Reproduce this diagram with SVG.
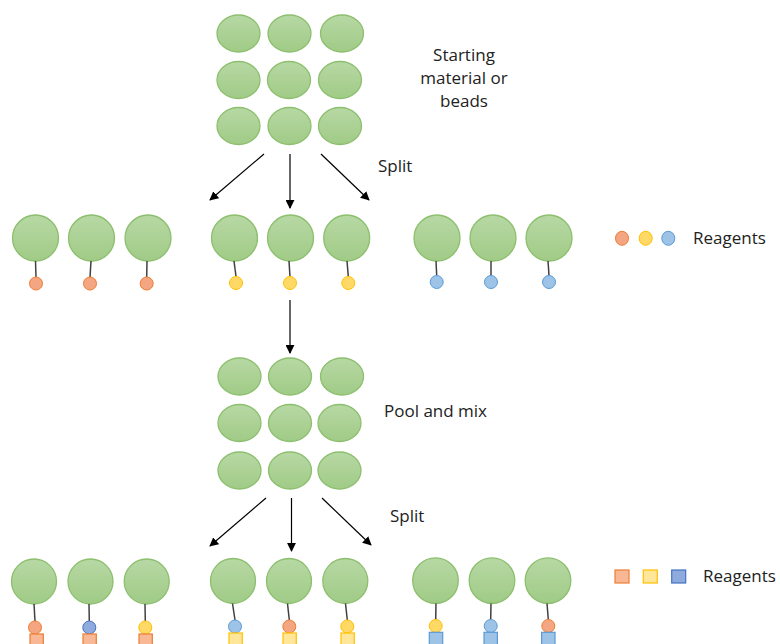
<svg xmlns="http://www.w3.org/2000/svg" width="780" height="644" viewBox="0 0 780 644">
<defs>
<linearGradient id="gg" x1="0" y1="0" x2="0" y2="1">
<stop offset="0" stop-color="#b7d8a4"/>
<stop offset="1" stop-color="#a0cb86"/>
</linearGradient>
<marker id="ah" viewBox="0 0 10 10" refX="9" refY="5" markerWidth="9" markerHeight="9" markerUnits="userSpaceOnUse" orient="auto">
<path d="M0,0 L10,5 L0,10 Z" fill="#000"/>
</marker>
</defs>
<style>
.bead{fill:url(#gg);stroke:#8cbf6e;stroke-width:1.3}
.stem{stroke:#404040;stroke-width:1.5}
.o{fill:#f4a582;stroke:#ed7d31;stroke-width:1}
.y{fill:#ffd966;stroke:#ffc000;stroke-width:1}
.b{fill:#9dc3e6;stroke:#5b9bd5;stroke-width:1}
.db{fill:#8faadc;stroke:#4472c4;stroke-width:1}
.so{fill:#f8b896;stroke:#ed7d31;stroke-width:1.2}
.sy{fill:#ffe699;stroke:#ffc000;stroke-width:1.2}
.sb{fill:#9dc3e6;stroke:#5b9bd5;stroke-width:1.2}
.sdb{fill:#8faadc;stroke:#4472c4;stroke-width:1.2}
.arr{stroke:#000;stroke-width:1.2;fill:none;marker-end:url(#ah)}
text{font-family:"Open Sans","Liberation Sans",sans-serif;font-size:17px;fill:#222}
</style>

<g id="pool1">
<ellipse class="bead" cx="238.5" cy="33.5" rx="21.5" ry="18.5"/>
<ellipse class="bead" cx="289.5" cy="33.5" rx="21.5" ry="18.5"/>
<ellipse class="bead" cx="342" cy="33.5" rx="21.5" ry="18.5"/>
<ellipse class="bead" cx="238.5" cy="80" rx="21.5" ry="18.5"/>
<ellipse class="bead" cx="289" cy="80" rx="21.5" ry="18.5"/>
<ellipse class="bead" cx="340" cy="80" rx="21.5" ry="18.5"/>
<ellipse class="bead" cx="238.5" cy="126" rx="21.5" ry="18.5"/>
<ellipse class="bead" cx="289.5" cy="126" rx="21.5" ry="18.5"/>
<ellipse class="bead" cx="340" cy="126" rx="21.5" ry="18.5"/>
</g>
<g id="label-start">
<text x="464" y="61" text-anchor="middle">Starting</text>
<text x="464" y="84" text-anchor="middle">material or</text>
<text x="464" y="107" text-anchor="middle">beads</text>
</g>
<g id="label-split1"><text x="378" y="172">Split</text></g>

<g id="connectors">
<line class="arr" x1="264" y1="154" x2="210" y2="200"/>
<line class="arr" x1="290" y1="154" x2="290" y2="208"/>
<line class="arr" x1="321" y1="154" x2="369" y2="200"/>
<line class="arr" x1="290" y1="300" x2="290" y2="353"/>
<line class="arr" x1="266" y1="498" x2="210" y2="546"/>
<line class="arr" x1="291.5" y1="498" x2="291.5" y2="551"/>
<line class="arr" x1="322" y1="498" x2="371" y2="545"/>
</g>

<g id="split1-orange">
<circle class="bead" cx="35.5" cy="238" r="23"/><line class="stem" x1="35.5" y1="261" x2="36" y2="277"/><circle class="o" cx="36" cy="283.5" r="6.5"/>
<circle class="bead" cx="91.5" cy="238" r="23"/><line class="stem" x1="91" y1="261" x2="90" y2="277"/><circle class="o" cx="90" cy="283.5" r="6.5"/>
<circle class="bead" cx="148" cy="238" r="23"/><line class="stem" x1="147" y1="261" x2="146.7" y2="277"/><circle class="o" cx="146.7" cy="283.5" r="6.5"/>
</g>
<g id="split1-yellow">
<circle class="bead" cx="234.5" cy="238" r="23"/><line class="stem" x1="234" y1="261" x2="236" y2="276.5"/><circle class="y" cx="236" cy="283" r="6.5"/>
<circle class="bead" cx="290.5" cy="238" r="23"/><line class="stem" x1="289" y1="261" x2="290" y2="276.5"/><circle class="y" cx="290" cy="283" r="6.5"/>
<circle class="bead" cx="346.7" cy="238" r="23"/><line class="stem" x1="347" y1="261" x2="348.3" y2="276.5"/><circle class="y" cx="348.3" cy="283" r="6.5"/>
</g>
<g id="split1-blue">
<circle class="bead" cx="437" cy="238" r="23"/><line class="stem" x1="436" y1="261" x2="436.7" y2="275.5"/><circle class="b" cx="436.7" cy="282" r="6.5"/>
<circle class="bead" cx="493" cy="238" r="23"/><line class="stem" x1="491" y1="261" x2="491" y2="275.5"/><circle class="b" cx="491" cy="282" r="6.5"/>
<circle class="bead" cx="549" cy="238" r="23"/><line class="stem" x1="548" y1="261" x2="549" y2="275.5"/><circle class="b" cx="549" cy="282" r="6.5"/>
</g>
<g id="legend1">
<ellipse class="o" cx="622" cy="238.3" rx="6.5" ry="7"/>
<ellipse class="y" cx="645.7" cy="238.3" rx="6.5" ry="7"/>
<ellipse class="b" cx="668.3" cy="238.3" rx="6.5" ry="7"/>
<text x="693" y="244">Reagents</text>
</g>

<g id="pool2">
<ellipse class="bead" cx="239.5" cy="376.5" rx="21.5" ry="18.5"/>
<ellipse class="bead" cx="290" cy="376.5" rx="21.5" ry="18.5"/>
<ellipse class="bead" cx="342" cy="376.5" rx="21.5" ry="18.5"/>
<ellipse class="bead" cx="239.5" cy="423" rx="21.5" ry="18.5"/>
<ellipse class="bead" cx="290" cy="423" rx="21.5" ry="18.5"/>
<ellipse class="bead" cx="339.5" cy="423" rx="21.5" ry="18.5"/>
<ellipse class="bead" cx="239.5" cy="470.5" rx="21.5" ry="18.5"/>
<ellipse class="bead" cx="290" cy="470.5" rx="21.5" ry="18.5"/>
<ellipse class="bead" cx="339.5" cy="470.5" rx="21.5" ry="18.5"/>
</g>
<g id="label-pool"><text x="384" y="417">Pool and mix</text></g>
<g id="label-split2"><text x="390" y="522">Split</text></g>

<g id="split2-orange">
<circle class="bead" cx="34" cy="581.5" r="22.5"/><line class="stem" x1="34" y1="604" x2="35" y2="621"/><circle class="o" cx="35" cy="627.5" r="6.5"/><rect class="so" x="30" y="634" width="13.3" height="13"/>
<circle class="bead" cx="90.5" cy="581.5" r="22.5"/><line class="stem" x1="89" y1="604" x2="89.3" y2="621"/><circle class="db" cx="89.3" cy="627.5" r="6.5"/><rect class="so" x="83" y="634" width="13.3" height="13"/>
<circle class="bead" cx="146.7" cy="581.5" r="22.5"/><line class="stem" x1="145" y1="604" x2="145.3" y2="621"/><circle class="y" cx="145.3" cy="627.5" r="6.5"/><rect class="so" x="139" y="634" width="13.3" height="13"/>
</g>
<g id="split2-yellow">
<circle class="bead" cx="233" cy="581" r="22.5"/><line class="stem" x1="232.5" y1="603.5" x2="235" y2="620"/><circle class="b" cx="235" cy="626.5" r="6.5"/><rect class="sy" x="229" y="633" width="13.3" height="13"/>
<circle class="bead" cx="289" cy="581" r="22.5"/><line class="stem" x1="287.5" y1="603.5" x2="289.3" y2="620"/><circle class="o" cx="289.3" cy="626.5" r="6.5"/><rect class="sy" x="283" y="633" width="13.3" height="13"/>
<circle class="bead" cx="345.3" cy="581" r="22.5"/><line class="stem" x1="345.5" y1="603.5" x2="347.3" y2="620"/><circle class="y" cx="347.3" cy="626.5" r="6.5"/><rect class="sy" x="341" y="633" width="13.3" height="13"/>
</g>
<g id="split2-blue">
<circle class="bead" cx="435.5" cy="580.7" r="22.8"/><line class="stem" x1="436" y1="603.5" x2="435.7" y2="619.5"/><circle class="y" cx="435.7" cy="626" r="6.5"/><rect class="sb" x="429.3" y="632.3" width="13.4" height="13"/>
<circle class="bead" cx="492" cy="580.7" r="22.8"/><line class="stem" x1="491" y1="603.5" x2="490.7" y2="619.5"/><circle class="b" cx="490.7" cy="626" r="6.5"/><rect class="sb" x="484" y="632.3" width="13.4" height="13"/>
<circle class="bead" cx="548" cy="580.7" r="22.8"/><line class="stem" x1="547" y1="603.5" x2="548.3" y2="619.5"/><circle class="o" cx="548.3" cy="626" r="6.5"/><rect class="sb" x="541.6" y="632.3" width="13.4" height="13"/>
</g>
<g id="legend2">
<rect class="so" x="615" y="570" width="14" height="13"/>
<rect class="sy" x="643.3" y="570" width="14" height="13"/>
<rect class="sdb" x="671.7" y="570" width="14" height="13"/>
<text x="703" y="582">Reagents</text>
</g>
</svg>
